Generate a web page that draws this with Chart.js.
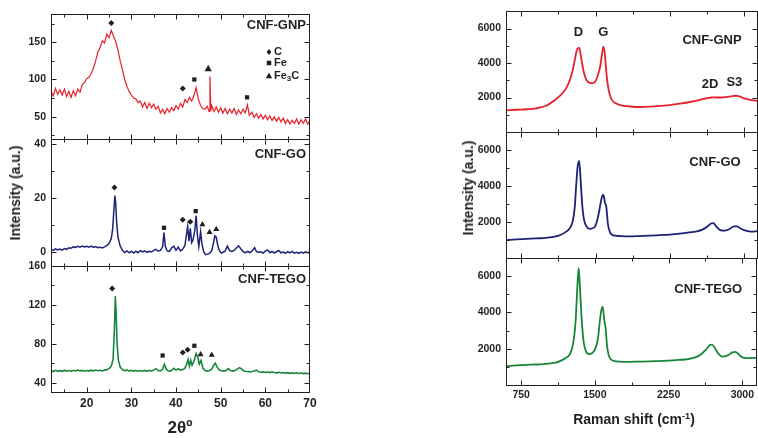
<!DOCTYPE html>
<html>
<head>
<meta charset="utf-8">
<script src="https://cdn.jsdelivr.net/npm/chart.js@4.4.1/dist/chart.umd.min.js"></script>
<style>
  body { margin: 0; background: #fff; }
  #wrap { position: relative; width: 758px; height: 438px; overflow: hidden;
          font-family: "Liberation Sans", Arial, sans-serif; color: #231f20; }
  #wrap canvas { position: absolute; left: 0; top: 0; }
  .t { position: absolute; font-weight: bold; white-space: nowrap; transform: translate(-50%, -50%); }
  .rot { transform: translate(-50%, -50%) rotate(-90deg); }
  sup { font-size: 65%; }
</style>
</head>
<body>
<div id="wrap">
  <canvas id="xrdGnp" width="758" height="438"></canvas>
  <canvas id="xrdGo" width="758" height="438"></canvas>
  <canvas id="xrdTego" width="758" height="438"></canvas>
  <canvas id="ramGnp" width="758" height="438"></canvas>
  <canvas id="ramGo" width="758" height="438"></canvas>
  <canvas id="ramTego" width="758" height="438"></canvas>
  <div class="t rot" style="left:15px; top:193px; font-size:14px;">Intensity (a.u.)</div>
  <div class="t rot" style="left:468px; top:188px; font-size:14px;">Intensity (a.u.)</div>
  <div class="t" style="left:180px; top:428px; font-size:17px;">2θº</div>
  <div class="t" style="left:634px; top:419px; font-size:14px;">Raman shift (cm<sup>-1</sup>)</div>
</div>
<script>
// XRD patterns (2theta in degrees, counts)
const gnpAngle = [
  12, 12.5, 13, 13.5, 14, 14.5, 15, 15.5, 16, 16.5,
  17, 17.5, 18, 18.5, 19, 19.5, 20, 20.5, 21, 21.5,
  22, 22.5, 23, 23.5, 24, 24.5, 25, 25.5, 26, 26.5,
  27, 27.5, 28, 28.5, 29, 29.5, 30, 30.5, 31, 31.5,
  32, 32.5, 33, 33.5, 34, 34.5, 35, 35.5, 36, 36.5,
  37, 37.5, 38, 38.5, 39, 39.5, 40, 40.5, 41, 41.5,
  42, 42.5, 43, 43.5, 44, 44.5, 45, 45.5, 46, 46.5,
  47, 47.4, 47.6, 47.8, 48, 48.5, 49, 49.5, 50, 50.5,
  51, 51.5, 52, 52.5, 53, 53.5, 54, 54.5, 55, 55.5,
  56, 56.4, 57, 57.5, 58, 58.5, 59, 59.5, 60, 60.5,
  61, 61.5, 62, 62.5, 63, 63.5, 64, 64.5, 65, 65.5,
  66, 66.5, 67, 67.5, 68, 68.5, 69, 69.5, 70
];
const gnpCounts = [
  84, 78, 88, 80, 86, 79, 87, 77, 84, 76,
  85, 78, 87, 83, 93, 96, 101, 103, 108, 115,
  125, 137, 143, 152, 149, 161, 156, 166, 158, 151,
  139, 125, 113, 100, 91, 84, 79, 75, 74, 69,
  71, 63, 69, 61, 68, 62, 67, 60, 64, 55,
  60, 54, 61, 56, 62, 58, 65, 60, 68, 63,
  73, 69, 76, 71, 78, 89, 73, 65, 61, 60,
  64, 57, 104, 58, 65, 57, 63, 56, 62, 55,
  61, 54, 60, 55, 61, 53, 59, 54, 60, 55,
  66, 52, 56, 49, 54, 48, 53, 47, 52, 46,
  51, 45, 50, 44, 49, 43, 48, 41, 46, 40,
  45, 41, 47, 40, 46, 41, 47, 40, 45
];
const goAngle = [
  12, 12.5, 13, 13.5, 14, 14.5, 15, 15.5, 16, 16.5,
  17, 17.5, 18, 18.5, 19, 19.5, 20, 20.5, 21, 21.5,
  22, 22.5, 23, 23.5, 24, 24.5, 25, 25.5, 25.8, 26.1,
  26.3, 26.5, 26.7, 27, 27.5, 28, 28.5, 29, 29.5, 30,
  30.5, 31, 31.5, 32, 32.5, 33, 33.5, 34, 34.5, 35,
  35.5, 36, 36.5, 37, 37.3, 37.6, 38, 38.5, 39, 39.5,
  40, 40.5, 41, 41.5, 42, 42.3, 42.6, 42.9, 43.2, 43.5,
  43.8, 44.2, 44.5, 44.8, 45.1, 45.5, 45.8, 46.2, 46.6, 47,
  47.5, 48, 48.4, 48.7, 49, 49.4, 49.8, 50.2, 50.6, 51,
  51.5, 52, 52.5, 53, 53.5, 54, 54.5, 55, 55.5, 56,
  56.5, 57, 57.6, 58, 58.5, 59, 59.5, 60, 60.5, 61,
  61.5, 62, 62.5, 63, 63.5, 64, 64.5, 65, 65.5, 66,
  66.5, 67, 67.5, 68, 68.5, 69, 69.5, 70
];
const goCounts = [
  1.0, 0.6, 1.2, 0.8, 1.1, 0.7, 1.3, 1.0, 1.6, 1.4,
  1.9, 1.7, 2.1, 1.8, 2.2, 1.9, 2.1, 1.8, 2.2, 1.7,
  2.0, 1.6, 1.8, 1.5, 1.9, 2.4, 3.2, 5.0, 8.5, 16,
  21, 18, 11, 5.5, 2.2, 0.6, -0.2, 0.4, -0.3, 0.3,
  -0.4, 0.2, -0.2, 0.5, 0.0, 0.4, -0.1, 0.3, 0.0, 0.6,
  1.0, 0.3, 0.6, 2.0, 7.2, 2.0, 0.4, 0.2, 1.5, 2.2,
  0.6, 1.8, 0.4, 1.0, 2.5, 6.0, 9.5, 4.0, 8.8, 3.5,
  4.5, 8.0, 13.5, 6.0, 2.0, 7.5, 3.0, 0.0, -1.0, -0.8,
  -0.5, 0.5, 3.5, 6.0, 5.5, 2.0, 0.2, -0.4, 0.0, 0.3,
  2.2, 0.5, 0.2, 0.6, 1.5, 2.3, 1.2, 0.2, -0.3, 0.2,
  -0.2, 0.3, 1.6, 0.2, -0.2, 0.1, -0.4, 0.3, 0.8, -0.2,
  0.2, -0.4, 0.1, 0.6, -0.3, 0.0, -0.5, 0.1, -0.3, 0.2,
  -0.4, -0.1, -0.5, 0.0, -0.4, 0.1, -0.3, 0.2
];
const tegoAngle = [
  12, 12.5, 13, 13.5, 14, 14.5, 15, 15.5, 16, 16.5,
  17, 17.5, 18, 18.5, 19, 19.5, 20, 20.5, 21, 21.5,
  22, 22.5, 23, 23.5, 24, 24.5, 25, 25.5, 25.9, 26.2,
  26.4, 26.6, 26.8, 27.1, 27.5, 28, 28.5, 29, 29.5, 30,
  30.5, 31, 31.5, 32, 32.5, 33, 33.5, 34, 34.5, 35,
  35.5, 36, 36.5, 37, 37.4, 37.8, 38.2, 38.6, 39, 39.5,
  40, 40.5, 41, 41.5, 42, 42.4, 42.7, 43, 43.3, 43.6,
  44, 44.5, 44.9, 45.2, 45.6, 46, 46.5, 47, 47.5, 48,
  48.5, 48.8, 49.2, 49.7, 50.2, 50.7, 51.2, 51.7, 52.2, 52.7,
  53.2, 53.7, 54.2, 54.6, 55, 55.5, 56, 56.5, 57, 57.5,
  58, 58.5, 59, 59.5, 60, 60.5, 61, 61.5, 62, 62.5,
  63, 63.5, 64, 64.5, 65, 65.5, 66, 66.5, 67, 67.5,
  68, 68.5, 69, 69.5, 70
];
const tegoCounts = [
  52.5, 51.5, 52.8, 51.8, 52.4, 51.6, 52.9, 52.0, 52.6, 51.7,
  52.8, 52.1, 53.0, 52.2, 52.7, 51.9, 52.6, 52.0, 52.9, 52.2,
  53.0, 52.3, 52.8, 52.2, 53.0, 53.5, 54.5, 57, 64, 95,
  129, 110, 80, 63, 56, 53.5, 52.5, 53.0, 52.0, 52.8,
  52.0, 52.6, 51.8, 52.5, 51.9, 52.7, 52.0, 52.6, 52.1, 53.0,
  54.5, 52.5, 52.2, 54, 59, 54, 52.3, 52.0, 52.6, 54.8,
  53.0, 54.5, 53.0, 53.5, 55, 59, 64, 57, 63, 58,
  62, 70, 66, 59, 63, 55, 52.5, 52.0, 52.5, 54,
  58.5, 60, 56, 53, 52.3, 52.0, 52.5, 54.5, 52.5, 52.0,
  52.5, 54, 55.5, 54.5, 52.5, 51.8, 51.5, 51.2, 51.5, 52.0,
  53.0, 51.2, 50.8, 51.2, 50.6, 51.0, 50.4, 51.2, 50.5, 50.2,
  50.7, 50.0, 50.5, 49.8, 50.4, 49.7, 50.2, 49.6, 50.2, 49.5,
  50.0, 49.4, 49.9, 49.3, 49.8
];

// indexed reflections: angle, marker height, phase
const gnpPeakAngle = [25.5, 41.5, 44.1, 47.2, 55.9];
const gnpPeakLevel = [176, 88, 100, 114, 76];
const gnpPeakPhase = ['C', 'C', 'Fe', 'Fe3C', 'Fe'];
const goPeakAngle = [26.2, 37.3, 41.5, 43.2, 44.4, 45.9, 47.5, 49.0];
const goPeakLevel = [24, 9, 12, 11.2, 15.2, 10.2, 7.3, 8.5];
const goPeakPhase = ['C', 'Fe', 'C', 'C', 'Fe', 'Fe3C', 'Fe3C', 'Fe3C'];
const tegoPeakAngle = [25.7, 37.0, 41.5, 42.6, 44.1, 45.5, 48.0];
const tegoPeakLevel = [137, 68, 71, 74, 78, 69, 68.5];
const tegoPeakPhase = ['C', 'Fe', 'C', 'C', 'Fe', 'Fe3C', 'Fe3C'];

// Raman spectra (cm-1, counts)
const ramanShift = [
  600, 700, 800, 900, 1000, 1100, 1150, 1200, 1240, 1270,
  1290, 1305, 1320, 1335, 1350, 1365, 1385, 1410, 1440, 1470,
  1500, 1530, 1550, 1565, 1580, 1595, 1610, 1625, 1645, 1670,
  1700, 1750, 1850, 1950, 2050, 2150, 2250, 2350, 2450, 2520,
  2580, 2630, 2670, 2690, 2720, 2760, 2800, 2850, 2900, 2930,
  2960, 3000, 3050, 3100, 3150
];
const ramanGnp = [
  1250, 1290, 1320, 1370, 1520, 1900, 2150, 2500, 3000, 3600,
  4150, 4600, 4850, 4880, 4500, 3950, 3400, 3000, 2850, 2830,
  2950, 3400, 3900, 4500, 4950, 4500, 3400, 2700, 2150, 1820,
  1680, 1560, 1480, 1450, 1470, 1510, 1560, 1640, 1740, 1820,
  1900, 1960, 2000, 2010, 2000, 2000, 2020, 2050, 2100, 2100,
  2050, 1950, 1880, 1830, 1800
];
const ramanGo = [
  990, 1030, 1060, 1090, 1120, 1200, 1290, 1450, 1650, 2050,
  2800, 4050, 5100, 5400, 4300, 3000, 2100, 1750, 1620, 1650,
  1800, 2400, 3000, 3400, 3500, 3100, 2800, 1900, 1450, 1280,
  1240, 1220, 1200, 1220, 1240, 1270, 1300, 1350, 1420, 1480,
  1580, 1750, 1930, 1940, 1750, 1550, 1520, 1600, 1760, 1760,
  1650, 1550, 1480, 1470, 1500
];
const ramanTego = [
  1040, 1080, 1110, 1130, 1170, 1230, 1330, 1480, 1650, 2050,
  2700, 3600, 5200, 6450, 5200, 3700, 2400, 1850, 1700, 1750,
  1950, 2500, 3500, 4100, 4300, 3600, 3100, 2100, 1580, 1380,
  1320, 1290, 1280, 1290, 1300, 1320, 1340, 1380, 1430, 1520,
  1700, 1950, 2200, 2230, 2050, 1700, 1560, 1630, 1800, 1830,
  1700, 1520, 1480, 1490, 1500
];
const ramanBand = ['D', 'G', '2D', 'S3'];
const ramanBandShift = [1328, 1579, 2656, 2902];
const ramanBandLevel = [5800, 5800, 2780, 2880];

// tick labels
const xrdTicks = [20, 30, 40, 50, 60, 70];
const gnpTicks = [50, 100, 150];
const goTicks = [0, 20, 40];
const tegoTicks = [40, 80, 120, 160];
const shiftTicks = [750, 1500, 2250, 3000];
const ramanTicks = [2000, 4000, 6000];

const ink = '#231f20';
const red = '#e8202a';
const navy = '#1e2277';
const green = '#17853a';
const fontFam = '"Liberation Sans", Arial, sans-serif';
Chart.defaults.font.family = fontFam;
Chart.defaults.font.weight = 'bold';
Chart.defaults.color = ink;

const styleOf = { C: 'rectRot', Fe: 'rect', Fe3C: 'triangle' };

function minorsOf(major, lo, hi) {
  const half = (major[1] - major[0]) / 2;
  const out = [major[0] - half];
  major.forEach(v => out.push(v + half));
  return out.filter(v => v > lo && v < hi);
}

function shape(ctx, kind, x, y, r) {
  ctx.beginPath();
  if (kind === 'C') {
    ctx.moveTo(x, y - r); ctx.lineTo(x + r * 0.8, y); ctx.lineTo(x, y + r); ctx.lineTo(x - r * 0.8, y);
  } else if (kind === 'Fe') {
    const s = r * 0.75;
    ctx.rect(x - s, y - s, 2 * s, 2 * s);
  } else {
    ctx.moveTo(x, y - r); ctx.lineTo(x + r * 0.9, y + r * 0.6); ctx.lineTo(x - r * 0.9, y + r * 0.6);
  }
  ctx.closePath();
  ctx.fill();
}

function framePlugin(p) {
  return {
    id: 'frame',
    afterDraw(chart) {
      const { ctx, chartArea: a, scales: { x, y } } = chart;
      const L = Math.floor(a.left) + 0.5, R = Math.ceil(a.right) - 0.5;
      const T = Math.floor(a.top) + 0.5, B = Math.floor(a.bottom) + 0.5;
      const clamp = (v, lo, hi) => Math.min(Math.max(v, lo), hi);
      ctx.save();
      ctx.strokeStyle = ink;
      ctx.lineWidth = 1;
      ctx.strokeRect(L, T, R - L, B - T);
      ctx.beginPath();
      const xMarks = (vals, len) => vals.forEach(v => {
        const px = clamp(Math.round(x.getPixelForValue(v)) + 0.5, L, R);
        ctx.moveTo(px, B); ctx.lineTo(px, B - len);
        ctx.moveTo(px, T); ctx.lineTo(px, T + len);
      });
      const yMarks = (vals, len) => vals.forEach(v => {
        const py = clamp(Math.round(y.getPixelForValue(v)) + 0.5, T, B);
        ctx.moveTo(L, py); ctx.lineTo(L + len, py);
        ctx.moveTo(R, py); ctx.lineTo(R - len, py);
      });
      xMarks(p.xTicks, 5);
      xMarks(minorsOf(p.xTicks, p.xMin, p.xMax), 3);
      yMarks(p.yTicks, 5);
      yMarks(minorsOf(p.yTicks, p.yMin, p.yMax), 3);
      ctx.stroke();

      ctx.fillStyle = ink;
      ctx.textBaseline = 'middle';
      ctx.font = 'bold 13px ' + fontFam;
      ctx.textAlign = p.label.align;
      ctx.fillText(p.label.text, a.right + p.label.dx, a.top + p.label.dy);

      if (p.bands) {
        ctx.textAlign = 'center';
        p.bands.forEach((b, i) => {
          ctx.fillText(b, x.getPixelForValue(p.bandX[i]), y.getPixelForValue(p.bandY[i]));
        });
      }
      if (p.legend) {
        const sx = a.right - 41, tx = a.right - 36;
        const rows = [['C', 38], ['Fe', 49], ['Fe3C', 62]];
        ctx.textAlign = 'left';
        ctx.font = 'bold 11px ' + fontFam;
        rows.forEach(([k, dy]) => {
          const yy = a.top + dy;
          shape(ctx, k, sx, yy, k === 'Fe3C' ? 3.6 : 3);
          if (k === 'Fe3C') {
            ctx.fillText('Fe', tx, yy);
            const w = ctx.measureText('Fe').width;
            ctx.font = 'bold 8px ' + fontFam;
            ctx.fillText('3', tx + w, yy + 3);
            const w3 = ctx.measureText('3').width;
            ctx.font = 'bold 11px ' + fontFam;
            ctx.fillText('C', tx + w + w3, yy);
          } else {
            ctx.fillText(k, tx, yy);
          }
        });
      }
      ctx.restore();
    }
  };
}

function makePanel(id, p) {
  const datasets = [{
    data: p.x.map((v, i) => ({ x: v, y: p.y[i] })),
    borderColor: p.color,
    borderWidth: p.width,
    pointRadius: 0,
    tension: p.smooth ? 0.4 : 0,
    cubicInterpolationMode: p.smooth ? 'monotone' : 'default'
  }];
  if (p.peakX) {
    datasets.push({
      data: p.peakX.map((v, i) => ({ x: v, y: p.peakY[i] })),
      showLine: false,
      pointStyle: c => styleOf[p.phase[c.dataIndex]],
      pointRadius: c => p.phase[c.dataIndex] === 'Fe3C' ? p.triSize : 3,
      backgroundColor: ink,
      borderColor: ink,
      borderWidth: 0
    });
  }
  new Chart(document.getElementById(id), {
    type: 'line',
    data: { datasets },
    options: {
      responsive: false,
      animation: false,
      events: [],
      layout: { padding: p.pad },
      plugins: { legend: { display: false }, tooltip: { enabled: false } },
      scales: {
        x: {
          type: 'linear', min: p.xMin, max: p.xMax, display: p.showX,
          grid: { display: false, drawTicks: false }, border: { display: false },
          afterBuildTicks: s => { s.ticks = p.xTicks.map(v => ({ value: v })); },
          afterFit: s => { s.height = p.showX ? 22 : 0; },
          ticks: { font: { size: p.xFont }, padding: 4, maxRotation: 0, autoSkip: false,
                   callback: v => String(v) }
        },
        y: {
          type: 'linear', min: p.yMin, max: p.yMax,
          grid: { display: false, drawTicks: false }, border: { display: false },
          afterBuildTicks: s => { s.ticks = p.yTicks.map(v => ({ value: v })); },
          afterFit: s => { s.width = p.yWidth; },
          ticks: { font: { size: 10.5 }, padding: 5, autoSkip: false, callback: v => String(v) }
        }
      }
    },
    plugins: [framePlugin(p)]
  });
}

const leftCol = { xMin: 12, xMax: 70, xTicks: xrdTicks, yWidth: 51, xFont: 12 };
const rightCol = { xMin: 596, xMax: 3141, xTicks: shiftTicks, yWidth: 66, xFont: 10.5,
                   yMin: 0, yMax: 7000, yTicks: ramanTicks, smooth: true, width: 1.8 };

makePanel('xrdGnp', Object.assign({}, leftCol, {
  x: gnpAngle, y: gnpCounts, color: red, width: 1.2,
  yMin: 20, yMax: 188, yTicks: gnpTicks, showX: false,
  pad: { left: 0, right: 448, top: 14, bottom: 299 },
  peakX: gnpPeakAngle, peakY: gnpPeakLevel, phase: gnpPeakPhase, triSize: 4.2,
  label: { text: 'CNF-GNP', dx: -4, dy: 11, align: 'right' }, legend: true
}));
makePanel('xrdGo', Object.assign({}, leftCol, {
  x: goAngle, y: goCounts, color: navy, width: 1.5,
  yMin: -5.2, yMax: 42, yTicks: goTicks, showX: false,
  pad: { left: 0, right: 448, top: 139, bottom: 172 },
  peakX: goPeakAngle, peakY: goPeakLevel, phase: goPeakPhase, triSize: 3.5,
  label: { text: 'CNF-GO', dx: -4, dy: 15, align: 'right' }
}));
makePanel('xrdTego', Object.assign({}, leftCol, {
  x: tegoAngle, y: tegoCounts, color: green, width: 1.6,
  yMin: 30.5, yMax: 160, yTicks: tegoTicks, showX: true,
  pad: { left: 0, right: 448, top: 266, bottom: 24 },
  peakX: tegoPeakAngle, peakY: tegoPeakLevel, phase: tegoPeakPhase, triSize: 3.5,
  label: { text: 'CNF-TEGO', dx: -4, dy: 13, align: 'right' }
}));
makePanel('ramGnp', Object.assign({}, rightCol, {
  x: ramanShift, y: ramanGnp, color: red, showX: false,
  pad: { left: 440, right: 0, top: 5, bottom: 306 },
  label: { text: 'CNF-GNP', dx: -46, dy: 29, align: 'center' },
  bands: ramanBand, bandX: ramanBandShift, bandY: ramanBandLevel
}));
makePanel('ramGo', Object.assign({}, rightCol, {
  x: ramanShift, y: ramanGo, color: navy, showX: false,
  pad: { left: 440, right: 0, top: 132, bottom: 180 },
  label: { text: 'CNF-GO', dx: -43, dy: 30, align: 'center' }
}));
makePanel('ramTego', Object.assign({}, rightCol, {
  x: ramanShift, y: ramanTego, color: green, showX: true,
  pad: { left: 440, right: 0, top: 258, bottom: 31 },
  label: { text: 'CNF-TEGO', dx: -48, dy: 31, align: 'center' }
}));
</script>
</body>
</html>
